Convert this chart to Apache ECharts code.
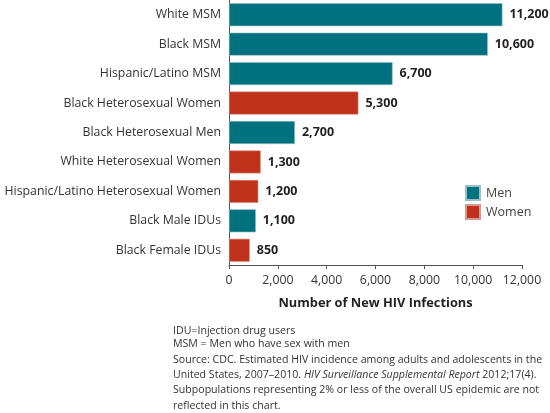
<!DOCTYPE html>
<html>
<head>
<meta charset="utf-8">
<script src="https://cdn.jsdelivr.net/npm/echarts@6/dist/echarts.min.js"></script>
<style>
html,body{margin:0;padding:0;background:#fff;}
#chart{width:550px;height:413px;}
</style>
</head>
<body>
<div id="chart"></div>
<script>
const categories = ["White MSM","Black MSM","Hispanic/Latino MSM","Black Heterosexual Women","Black Heterosexual Men","White Heterosexual Women","Hispanic/Latino Heterosexual Women","Black Male IDUs","Black Female IDUs"];
const menValues = [11200, 10600, 6700, null, 2700, null, null, 1100, null];
const womenValues = [null, null, null, 5300, null, 1300, 1200, null, 850];
const xTicks = [0, 2000, 4000, 6000, 8000, 10000, 12000];
const seriesNames = ["Men", "Women"];
const footLines = [
  "IDU=Injection drug users",
  "MSM = Men who have sex with men"
];
const sourceLines = [
  "Source: CDC. Estimated HIV incidence among adults and adolescents in the",
  "United States, 2007\u20132010. {i|HIV Surveillance Supplemental Report} 2012;17(4).",
  "Subpopulations representing 2% or less of the overall US epidemic are not",
  "reflected in this chart."
];

const FONT = "Open Sans";
const TEAL = "#00717e";
const RED = "#bf311b";
const fmt = v => Number(v).toLocaleString('en-US');

const chart = echarts.init(document.getElementById('chart'));
const labelCfg = {
  show: true, position: 'right', distance: 7,
  fontFamily: FONT, fontWeight: 'bold', fontSize: 12.5, color: '#231f20',
  formatter: p => (p.value == null || p.value === '-') ? '' : fmt(p.value)
};
const g = [];
footLines.forEach((t, i) => g.push({
  type: 'text', left: 173, top: 325 + i * 13,
  style: { text: t, fontFamily: FONT, fontSize: 10.6, fill: '#333' }
}));
g.push({
  type: 'text', left: 173, top: 352,
  style: {
    text: sourceLines.join('\n'), fontFamily: FONT, fontSize: 10.6, fill: '#333', lineHeight: 15.3,
    rich: { i: { fontStyle: 'italic', fontFamily: FONT, fontSize: 10.6, fill: '#333' } }
  }
});

chart.setOption({
  animation: false,
  grid: { left: 229, right: 28, top: 0, bottom: 148, containLabel: false },
  legend: {
    data: seriesNames, orient: 'vertical', left: 460, top: 180,
    itemWidth: 14, itemHeight: 14, itemGap: 3,
    icon: 'rect',
    textStyle: { fontFamily: FONT, fontSize: 12.5, color: '#444', padding: [0,0,0,1] }
  },
  xAxis: {
    type: 'value', min: 0, max: 12000, interval: 2000,
    axisLine: { show: true, lineStyle: { color: '#555', width: 1 } },
    axisTick: { show: true, length: 4, lineStyle: { color: '#555' } },
    splitLine: { show: false },
    axisLabel: { fontFamily: FONT, fontSize: 12.3, color: '#333', margin: 9,
      formatter: v => xTicks.includes(v) ? fmt(v) : '' },
    name: 'Number of New HIV Infections', nameLocation: 'middle', nameGap: 32,
    nameTextStyle: { fontFamily: FONT, fontWeight: 'bold', fontSize: 12.8, color: '#231f20' }
  },
  yAxis: {
    type: 'category', data: categories, inverse: true,
    axisLine: { show: true, lineStyle: { color: '#555', width: 1 } },
    axisTick: { show: false },
    axisLabel: { fontFamily: FONT, fontSize: 12.3, color: '#333', margin: 8 }
  },
  series: [
    { name: seriesNames[0], type: 'bar', stack: 'all', data: menValues, barWidth: 23,
      itemStyle: { color: TEAL, borderColor: '#9bbfc4', borderWidth: 0.6 }, label: labelCfg },
    { name: seriesNames[1], type: 'bar', stack: 'all', data: womenValues, barWidth: 23,
      itemStyle: { color: RED, borderColor: '#d89a8e', borderWidth: 0.6 }, label: labelCfg }
  ],
  graphic: g
});
</script>
</body>
</html>
